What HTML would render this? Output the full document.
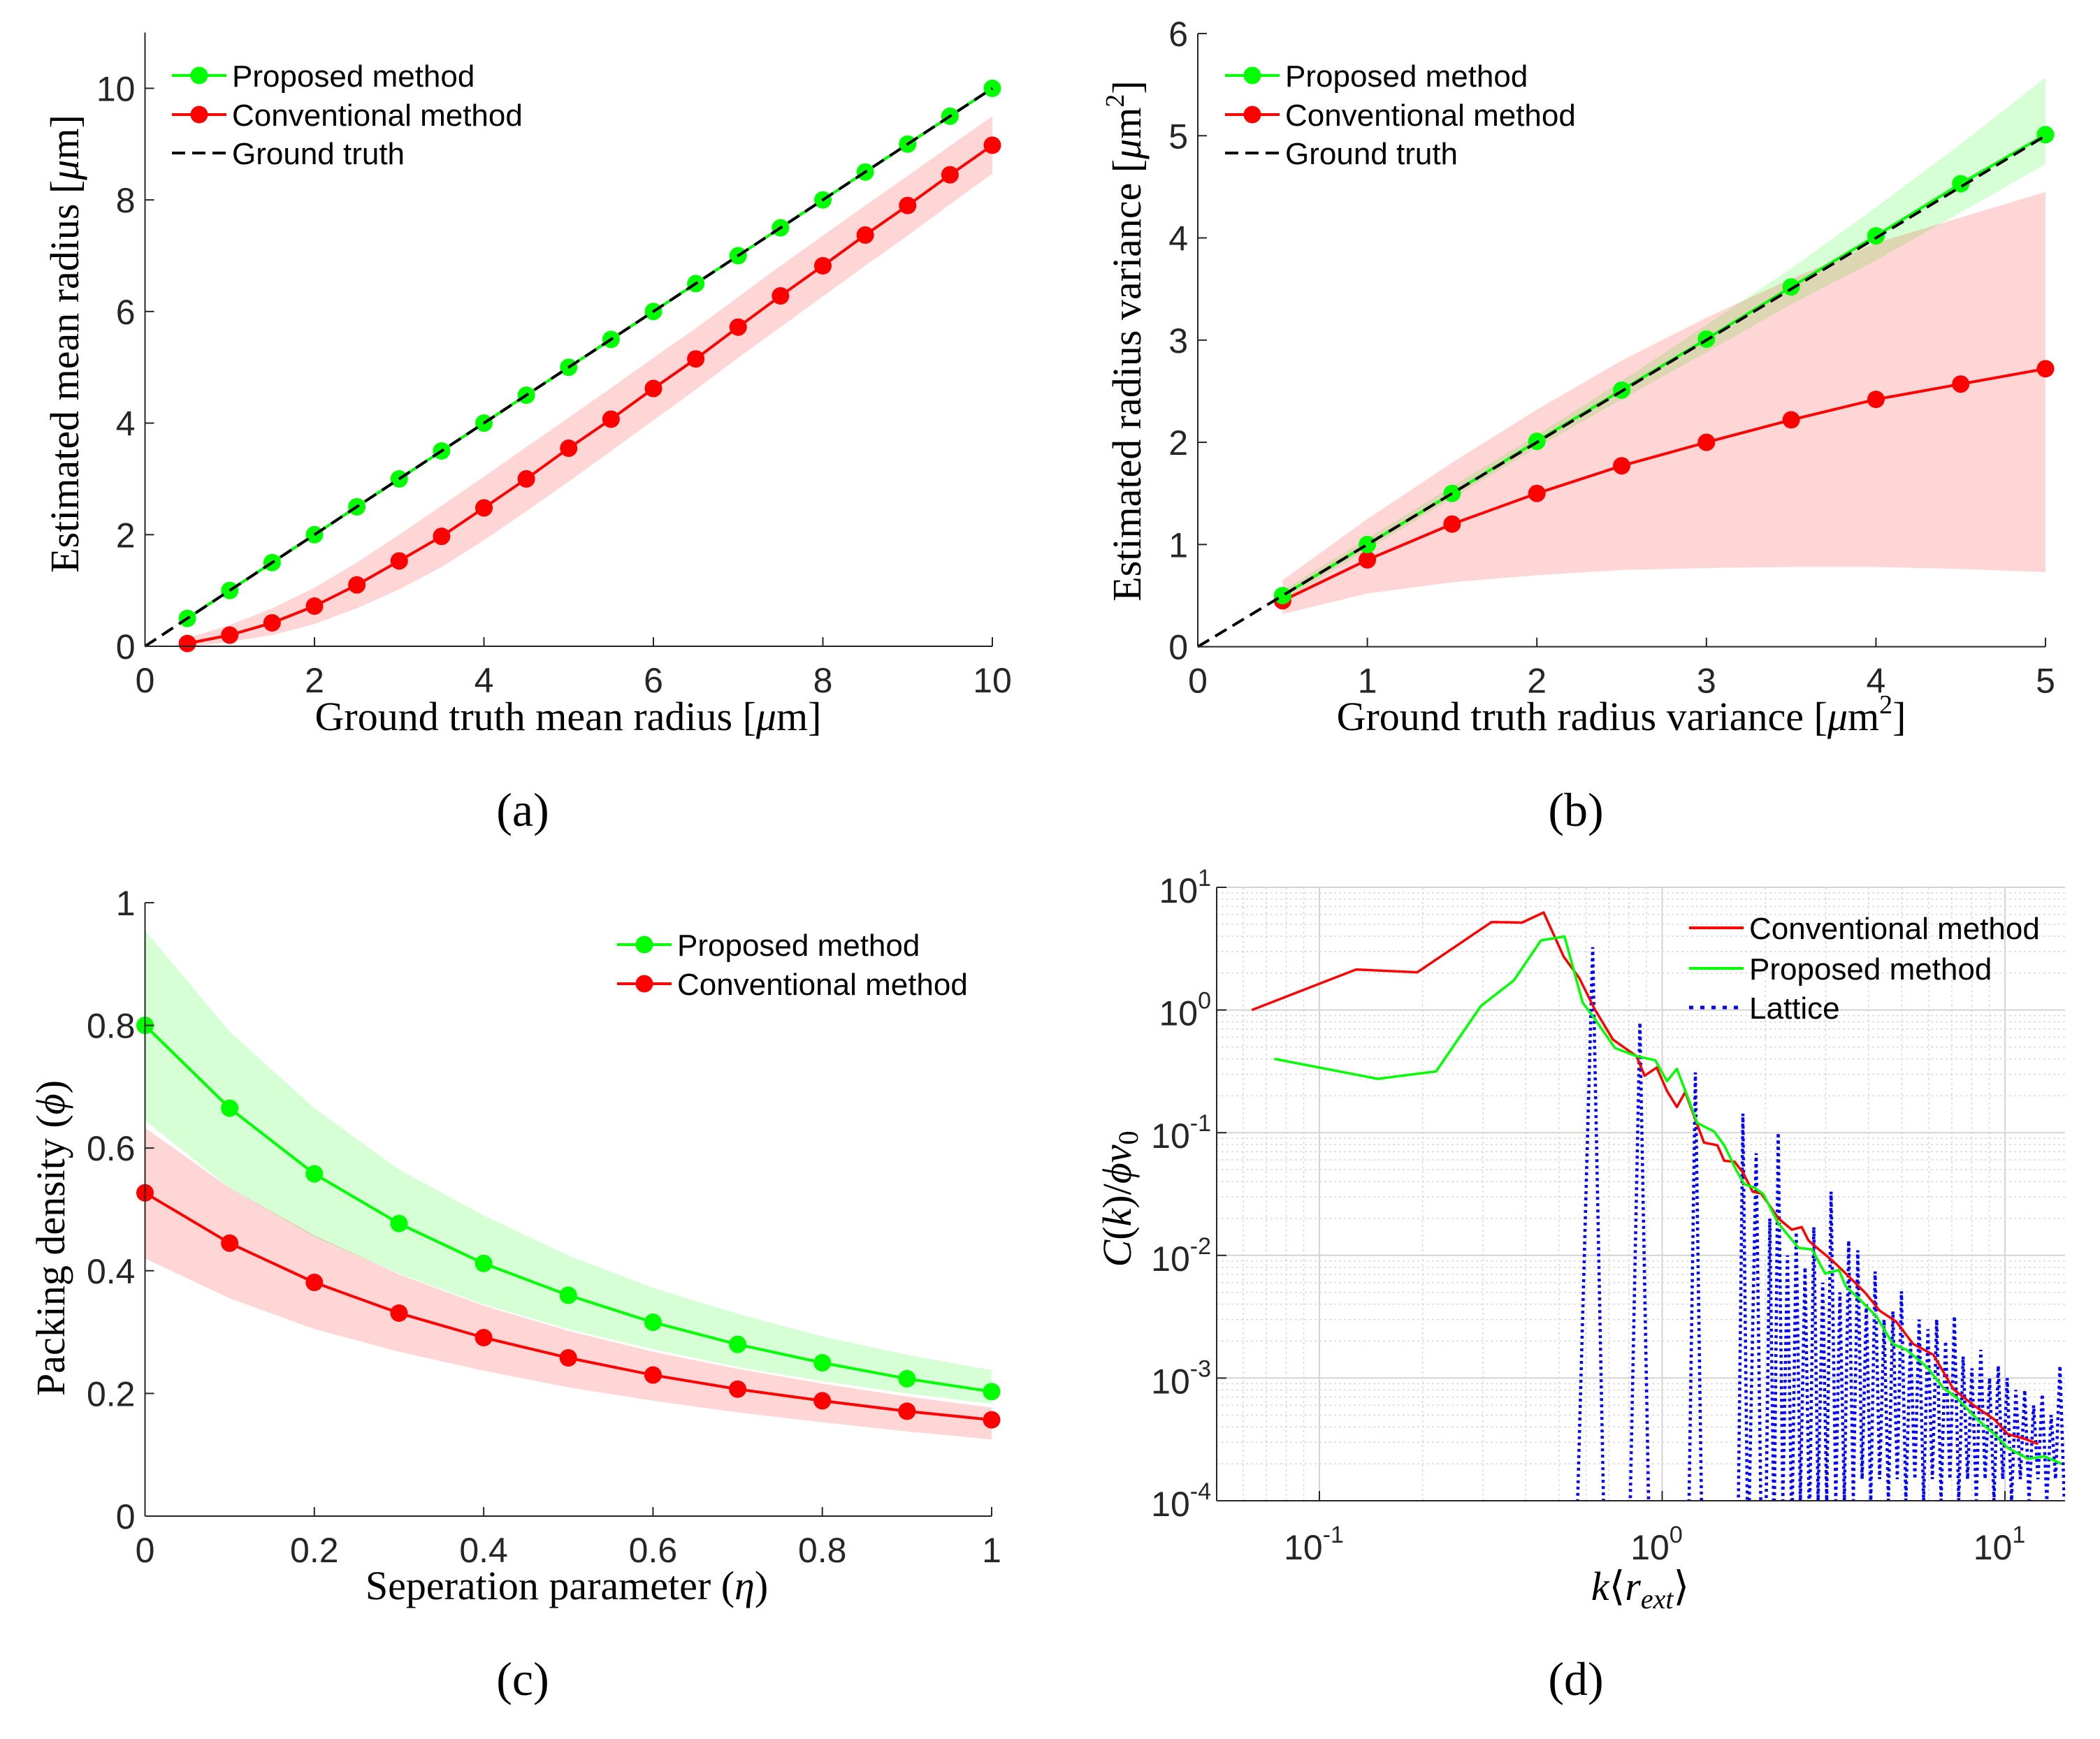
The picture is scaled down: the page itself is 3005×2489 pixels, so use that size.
<!DOCTYPE html>
<html><head><meta charset="utf-8"><style>
html,body{margin:0;padding:0;background:#fff;}
svg{display:block;}
</style></head><body>
<svg id="fig" width="3005" height="2489" viewBox="0 0 3005 2489" xmlns="http://www.w3.org/2000/svg">
<rect x="0" y="0" width="3005" height="2489" fill="#fff"/>
</svg>
<script>
// ---------- Panel (a) data ----------
const aX = [0.5,1,1.5,2,2.5,3,3.5,4,4.5,5,5.5,6,6.5,7,7.5,8,8.5,9,9.5,10];
const aProp = [0.5,1,1.5,2,2.5,3,3.5,4,4.5,5,5.5,6,6.5,7,7.5,8,8.5,9,9.5,10];
const aConv = [0.05,0.2,0.42,0.72,1.1,1.53,1.97,2.48,3.0,3.55,4.07,4.62,5.15,5.72,6.28,6.82,7.37,7.9,8.45,8.98];
const aConvUp = [0.15,0.38,0.68,1.05,1.5,2.0,2.52,3.04,3.57,4.1,4.63,5.17,5.7,6.26,6.82,7.36,7.9,8.43,8.97,9.5];
const aConvLo = [-0.02,0.08,0.2,0.4,0.68,1.02,1.42,1.9,2.42,2.95,3.5,4.05,4.6,5.17,5.72,6.27,6.82,7.36,7.92,8.47];
const aTicksX = [0,2,4,6,8,10];
const aTicksY = [0,2,4,6,8,10];
// ---------- Panel (b) data ----------
const bX = [0.5,1,1.5,2,2.5,3,3.5,4,4.5,5];
const bProp = [0.5,1.0,1.5,2.01,2.51,3.01,3.52,4.02,4.53,5.01];
const bConv = [0.45,0.85,1.2,1.5,1.77,2.0,2.22,2.42,2.57,2.72];
const bPropUp = [0.55,1.06,1.57,2.07,2.6,3.15,3.7,4.3,4.92,5.57];
const bPropLo = [0.45,0.95,1.45,1.95,2.42,2.88,3.35,3.78,4.25,4.72];
const bConvUp = [0.65,1.25,1.8,2.32,2.8,3.22,3.6,3.95,4.2,4.45];
const bConvLo = [0.32,0.52,0.63,0.7,0.75,0.77,0.78,0.78,0.76,0.73];
const bTicksX = [0,1,2,3,4,5];
const bTicksY = [0,1,2,3,4,5,6];
// ---------- Panel (c) data ----------
const cX = [0,0.1,0.2,0.3,0.4,0.5,0.6,0.7,0.8,0.9,1];
const cProp = [0.80,0.665,0.558,0.477,0.412,0.36,0.316,0.28,0.25,0.224,0.203];
const cConv = [0.527,0.445,0.381,0.331,0.291,0.258,0.23,0.207,0.188,0.171,0.157];
const cPropUp = [0.955,0.79,0.665,0.565,0.49,0.425,0.372,0.33,0.293,0.263,0.238];
const cPropLo = [0.645,0.535,0.455,0.395,0.345,0.305,0.272,0.243,0.22,0.2,0.183];
const cConvUp = [0.633,0.535,0.458,0.394,0.343,0.302,0.268,0.24,0.216,0.195,0.177];
const cConvLo = [0.42,0.355,0.305,0.268,0.237,0.21,0.188,0.169,0.153,0.138,0.125];
const cTicksX = [0,0.2,0.4,0.6,0.8,1];
const cTicksY = [0,0.2,0.4,0.6,0.8,1];
// ---------- Panel (d) data ----------
const dConvK = [0.0635,0.128,0.193,0.318,0.39,0.451,0.516,0.573,0.635,0.718,0.841,0.889,0.964,1.033,1.104,1.167,1.253,1.324,1.449,1.517,1.626,1.722,1.837,1.945,2.183,2.388,2.553,2.673,2.864,3.133,3.589,3.926,4.305,4.819,5.395,6.18,7.08,8.11,9.31,10.19,11.4,12.5];
const dConvC = [1.0,2.14,2.03,5.21,5.16,6.24,2.72,1.82,1.02,0.575,0.421,0.291,0.34,0.219,0.162,0.214,0.126,0.083,0.079,0.059,0.058,0.047,0.033,0.032,0.020,0.0162,0.017,0.0132,0.0112,0.0091,0.0063,0.0049,0.00355,0.00288,0.0019,0.00155,0.00081,0.0006,0.00046,0.00035,0.00032,0.00029];
const dPropK = [0.0738,0.148,0.219,0.296,0.369,0.443,0.519,0.586,0.635,0.728,0.841,0.955,1.033,1.104,1.183,1.265,1.419,1.517,1.648,1.738,1.862,1.972,2.183,2.5,2.735,2.99,3.28,3.43,3.76,4.21,4.71,5.16,5.92,6.61,7.24,8.3,9.31,10.19,11.67,13.06,14.62];
const dPropC = [0.40,0.275,0.316,1.08,1.74,3.69,3.98,1.15,0.85,0.49,0.421,0.389,0.263,0.331,0.2,0.12,0.102,0.079,0.049,0.038,0.0355,0.0316,0.0182,0.0115,0.0112,0.0071,0.0076,0.0056,0.0044,0.0032,0.0019,0.0017,0.00123,0.00083,0.00069,0.00046,0.00035,0.00027,0.00022,0.00023,0.0002];
const dLatK = [0.56,0.627,0.68,0.80,0.861,0.92,1.19,1.25,1.31,1.66,1.72,1.78,1.88,1.95,
  2.00,2.06,2.12,2.18,2.25,2.32,2.39,2.46,2.53,2.61,
  2.69,2.77,2.85,2.94,3.02,3.11,3.21,3.30,3.40,3.50,
  3.61,3.72,3.83,3.94,4.06,4.18,4.31,4.44,4.57,4.71,
  4.85,4.99,5.14,5.30,5.46,5.62,5.79,5.96,6.14,6.32,
  6.51,6.71,6.91,7.12,7.33,7.55,7.78,8.01,8.25,8.50,
  8.75,9.02,9.29,9.56,9.85,10.15,10.45,10.76,11.09,11.42,
  11.76,12.12,12.48,12.85,13.24,13.64,14.05,14.47,14.9];
const dLatC = [0.00003,3.25,0.00003,0.00003,0.79,0.00003,0.00003,0.31,0.00003,0.00003,0.143,0.00003,0.068,0.00003,
  0.00003,0.02,0.00005,0.10,0.0001,0.01,0.00005,0.0155,0.0001,0.008,
  0.00006,0.017,0.0001,0.006,0.0001,0.033,0.0001,0.005,0.0001,0.0132,
  0.0001,0.011,0.00015,0.004,0.0001,0.0074,0.00015,0.003,0.0001,0.0035,
  0.00015,0.0051,0.0001,0.002,0.00015,0.003,0.0001,0.0025,0.00015,0.003,
  0.0001,0.002,0.00015,0.0032,0.0001,0.0015,0.00015,0.0012,0.0001,0.0017,
  0.00015,0.001,0.0001,0.00126,0.00015,0.001,0.0001,0.0008,0.00015,0.0008,
  0.0001,0.0006,0.00015,0.00074,0.0001,0.0005,0.00015,0.00126,0.0001];
const dTicksXExp = [-1,0,1];
const dTicksYExp = [-4,-3,-2,-1,0,1];

const NS = 'http://www.w3.org/2000/svg';
const svg = document.getElementById('fig');
const AX = '#262626';
const TICKFONT = '"Liberation Sans", Arial, sans-serif';
const SERIF = '"Liberation Serif", "DejaVu Serif", serif';

function el(tag, attrs, parent, name, inter) {
  const e = document.createElementNS(NS, tag);
  for (const k in attrs) e.setAttribute(k, attrs[k]);
  
  
  (parent || svg).appendChild(e);
  return e;
}
function linScale(d0, d1, p0, p1) { return v => p0 + (v - d0) / (d1 - d0) * (p1 - p0); }
function logScale(d0, d1, p0, p1) { return v => p0 + (Math.log10(v) - d0) / (d1 - d0) * (p1 - p0); }
function pathD(xs, ys, sx, sy) { return xs.map((x, i) => (i ? 'L' : 'M') + sx(x).toFixed(1) + ',' + sy(ys[i]).toFixed(1)).join(''); }
function bandD(xs, up, lo, sx, sy) {
  let d = xs.map((x, i) => (i ? 'L' : 'M') + sx(x).toFixed(1) + ',' + sy(up[i]).toFixed(1)).join('');
  for (let i = xs.length - 1; i >= 0; i--) d += 'L' + sx(xs[i]).toFixed(1) + ',' + sy(lo[i]).toFixed(1);
  return d + 'Z';
}
function text(parent, x, y, str, size, family, anchor, name) {
  const t = el('text', {x: x, y: y, 'font-size': size, 'font-family': family, 'text-anchor': anchor || 'middle', fill: '#000'}, parent, name, false);
  t.textContent = str;
  return t;
}
function linAxes(g, sx, sy, x0, x1, y0, y1, tx, ty, fmt) {
  el('line', {x1: sx(x0), y1: sy(y0), x2: sx(x1), y2: sy(y0), stroke: AX, 'stroke-width': 2}, g, 'x-axis-line', false);
  el('line', {x1: sx(x0), y1: sy(y0), x2: sx(x0), y2: sy(y1), stroke: AX, 'stroke-width': 2}, g, 'y-axis-line', false);
  tx.forEach(v => {
    el('line', {x1: sx(v), y1: sy(y0), x2: sx(v), y2: sy(y0) - 13, stroke: AX, 'stroke-width': 2}, g, 'x-tick', false);
    const t = text(g, sx(v), sy(y0) + 66, fmt(v), 50, TICKFONT, 'middle', 'x-tick-label');
    t.setAttribute('fill', AX);
  });
  ty.forEach(v => {
    el('line', {x1: sx(x0), y1: sy(v), x2: sx(x0) + 13, y2: sy(v), stroke: AX, 'stroke-width': 2}, g, 'y-tick', false);
    const t = text(g, sx(x0) - 14, sy(v) + 18, fmt(v), 50, TICKFONT, 'end', 'y-tick-label');
    t.setAttribute('fill', AX);
  });
}
function series(g, xs, ys, sx, sy, color, name, markers) {
  el('path', {d: pathD(xs, ys, sx, sy), fill: 'none', stroke: color, 'stroke-width': 4, 'stroke-linejoin': 'round'}, g, name + '-line', false);
  if (markers) xs.forEach((x, i) => {
    el('circle', {cx: sx(x), cy: sy(ys[i]), r: 12.5, fill: color}, g, name + '-marker', false);
  });
}
function legendRow(g, x, y, color, label, dash, marker, name) {
  const ln = el('line', {x1: x, y1: y, x2: x + 78, y2: y, stroke: color, 'stroke-width': 4}, g, name + '-swatch', false);
  if (dash) ln.setAttribute('stroke-dasharray', dash);
  if (dash === '6 10') ln.setAttribute('stroke-width', 5);
  if (marker) el('circle', {cx: x + 39, cy: y, r: 12.5, fill: color}, g, name + '-swatch-marker', false);
  const t = text(g, x + 86, y + 16, label, 44, TICKFONT, 'start', name + '-label');
  return t;
}
const fmtNum = v => String(Math.round(v * 10) / 10);

// ===== Panel (a) =====
(function () {
  const g = el('g', {}, svg, 'panel-a', false);
  const sx = linScale(0, 10, 207.5, 1420), sy = linScale(0, 10, 925, 126.4);
  el('path', {d: bandD(aX, aConvUp, aConvLo, sx, sy), fill: '#ff0000', 'fill-opacity': 0.16, stroke: 'none'}, g, 'conventional-band', false);
  series(g, aX, aConv, sx, sy, '#ff0000', 'conventional', true);
  series(g, aX, aProp, sx, sy, '#00ff00', 'proposed', true);
  el('path', {d: pathD([0, 10], [0, 10], sx, sy), fill: 'none', stroke: '#000', 'stroke-width': 4, 'stroke-dasharray': '19 10'}, g, 'ground-truth-line', false);
  linAxes(g, sx, sy, 0, 10, 0, 11, aTicksX, aTicksY, fmtNum);
  const lg = el('g', {}, g, 'legend-a', false);
  legendRow(lg, 246, 108, '#00ff00', 'Proposed method', null, true, 'legend-proposed');
  legendRow(lg, 246, 164, '#ff0000', 'Conventional method', null, true, 'legend-conventional');
  legendRow(lg, 246, 219, '#000', 'Ground truth', '19 10', false, 'legend-ground-truth');
  const xl = text(g, 813, 1045, '', 58, SERIF, 'middle', 'x-axis-title');
  xl.innerHTML = 'Ground truth mean radius [<tspan font-style="italic">μ</tspan>m]';
  const yl = text(g, 0, 0, '', 58, SERIF, 'middle', 'y-axis-title');
  yl.innerHTML = 'Estimated mean radius [<tspan font-style="italic">μ</tspan>m]';
  yl.setAttribute('transform', 'translate(112,492) rotate(-90)');
  text(g, 748, 1182, '(a)', 68, SERIF, 'middle', 'subfigure-label-a');
})();

// ===== Panel (b) =====
(function () {
  const g = el('g', {}, svg, 'panel-b', false);
  const sx = linScale(0, 5, 1714, 2927), sy = linScale(0, 6, 925.6, 48);
  el('path', {d: bandD(bX, bPropUp, bPropLo, sx, sy), fill: '#00ff00', 'fill-opacity': 0.16, stroke: 'none'}, g, 'proposed-band', false);
  el('path', {d: bandD(bX, bConvUp, bConvLo, sx, sy), fill: '#ff0000', 'fill-opacity': 0.16, stroke: 'none'}, g, 'conventional-band', false);
  series(g, bX, bConv, sx, sy, '#ff0000', 'conventional', true);
  series(g, bX, bProp, sx, sy, '#00ff00', 'proposed', true);
  el('path', {d: pathD([0, 5], [0, 5], sx, sy), fill: 'none', stroke: '#000', 'stroke-width': 4, 'stroke-dasharray': '19 10'}, g, 'ground-truth-line', false);
  linAxes(g, sx, sy, 0, 5, 0, 6, bTicksX, bTicksY, fmtNum);
  const lg = el('g', {}, g, 'legend-b', false);
  legendRow(lg, 1753, 108, '#00ff00', 'Proposed method', null, true, 'legend-proposed');
  legendRow(lg, 1753, 164, '#ff0000', 'Conventional method', null, true, 'legend-conventional');
  legendRow(lg, 1753, 219, '#000', 'Ground truth', '19 10', false, 'legend-ground-truth');
  const xl = text(g, 2320, 1045, '', 58, SERIF, 'middle', 'x-axis-title');
  xl.innerHTML = 'Ground truth radius variance [<tspan font-style="italic">μ</tspan>m<tspan font-size="38" dy="-24">2</tspan><tspan dy="24">]</tspan>';
  const yl = text(g, 0, 0, '', 58, SERIF, 'middle', 'y-axis-title');
  yl.innerHTML = 'Estimated radius variance [<tspan font-style="italic">μ</tspan>m<tspan font-size="38" dy="-24">2</tspan><tspan dy="24">]</tspan>';
  yl.setAttribute('transform', 'translate(1632,488) rotate(-90)');
  text(g, 2255, 1182, '(b)', 68, SERIF, 'middle', 'subfigure-label-b');
})();

// ===== Panel (c) =====
(function () {
  const g = el('g', {}, svg, 'panel-c', false);
  const sx = linScale(0, 1, 207.5, 1419), sy = linScale(0, 1, 2170, 1292);
  el('path', {d: bandD(cX, cPropUp, cPropLo, sx, sy), fill: '#00ff00', 'fill-opacity': 0.16, stroke: 'none'}, g, 'proposed-band', false);
  el('path', {d: bandD(cX, cConvUp, cConvLo, sx, sy), fill: '#ff0000', 'fill-opacity': 0.16, stroke: 'none'}, g, 'conventional-band', false);
  series(g, cX, cConv, sx, sy, '#ff0000', 'conventional', true);
  series(g, cX, cProp, sx, sy, '#00ff00', 'proposed', true);
  linAxes(g, sx, sy, 0, 1, 0, 1, cTicksX, cTicksY, fmtNum);
  const lg = el('g', {}, g, 'legend-c', false);
  legendRow(lg, 883, 1352, '#00ff00', 'Proposed method', null, true, 'legend-proposed');
  legendRow(lg, 883, 1408, '#ff0000', 'Conventional method', null, true, 'legend-conventional');
  const xl = text(g, 811, 2289, '', 58, SERIF, 'middle', 'x-axis-title');
  xl.innerHTML = 'Seperation parameter (<tspan font-style="italic">η</tspan>)';
  const yl = text(g, 0, 0, '', 58, SERIF, 'middle', 'y-axis-title');
  yl.innerHTML = 'Packing density (<tspan font-style="italic">ϕ</tspan>)';
  yl.setAttribute('transform', 'translate(92,1772) rotate(-90)');
  text(g, 748, 2426, '(c)', 68, SERIF, 'middle', 'subfigure-label-c');
})();

// ===== Panel (d) =====
(function () {
  const g = el('g', {}, svg, 'panel-d', false);
  const X0 = 1741, X1 = 2955, Y0 = 2148, Y1 = 1270;
  const lx0 = -1 - (1888 - X0) / 490.5, lx1 = 1 + (X1 - 2869) / 490.5;
  const sx = logScale(lx0, lx1, X0, X1), sy = logScale(-4, 1, Y0, Y1);
  const grid = el('g', {}, g, 'grid', false);
  for (let e = -2; e <= 1; e++) for (let m = 1; m <= 9; m++) {
    const v = m * Math.pow(10, e); const x = sx(v);
    if (x <= X0 || x > X1) continue;
    const ln = el('line', {x1: x, y1: Y0, x2: x, y2: Y1, stroke: m === 1 ? '#d4d4d4' : '#d8d8d8', 'stroke-width': m === 1 ? 2 : 1.5}, grid, 'x-grid-line', false);
    if (m !== 1) ln.setAttribute('stroke-dasharray', '3 4');
  }
  for (let e = -4; e <= 0; e++) for (let m = 1; m <= 9; m++) {
    const v = m * Math.pow(10, e); const y = sy(v);
    if (y >= Y0) continue;
    const ln = el('line', {x1: X0, y1: y, x2: X1, y2: y, stroke: m === 1 ? '#d4d4d4' : '#d8d8d8', 'stroke-width': m === 1 ? 2 : 1.5}, grid, 'y-grid-line', false);
    if (m !== 1) ln.setAttribute('stroke-dasharray', '3 4');
  }
  el('line', {x1: X0, y1: Y1, x2: X1, y2: Y1, stroke: '#d4d4d4', 'stroke-width': 2}, grid, 'y-grid-line', false);
  const clip = el('clipPath', {id: 'clipd'}, g, 'plot-clip', false);
  el('rect', {x: X0, y: Y1, width: X1 - X0, height: Y0 - Y1}, clip, 'plot-clip-rect', false);
  const plot = el('g', {'clip-path': 'url(#clipd)'}, g, 'plot-area', false);
  el('path', {d: pathD(dLatK, dLatC, sx, sy), fill: 'none', stroke: '#0000ff', 'stroke-width': 4.5, 'stroke-dasharray': '4 5'}, plot, 'lattice-line', false);
  el('path', {d: pathD(dConvK, dConvC, sx, sy), fill: 'none', stroke: '#ff0000', 'stroke-width': 3.5, 'stroke-linejoin': 'round'}, plot, 'conventional-line', false);
  el('path', {d: pathD(dPropK, dPropC, sx, sy), fill: 'none', stroke: '#00ff00', 'stroke-width': 3.5, 'stroke-linejoin': 'round'}, plot, 'proposed-line', false);
  el('line', {x1: X0, y1: Y0, x2: X1, y2: Y0, stroke: AX, 'stroke-width': 2}, g, 'x-axis-line', false);
  el('line', {x1: X0, y1: Y0, x2: X0, y2: Y1, stroke: AX, 'stroke-width': 2}, g, 'y-axis-line', false);
  dTicksXExp.forEach(e => {
    const x = sx(Math.pow(10, e));
    el('line', {x1: x, y1: Y0, x2: x, y2: Y0 - 14, stroke: AX, 'stroke-width': 2}, g, 'x-tick', false);
    const t = text(g, x - 8, Y0 + 84, '', 50, TICKFONT, 'middle', 'x-tick-label');
    t.innerHTML = '10<tspan font-size="34" dy="-24">' + (e < 0 ? '-' : '') + Math.abs(e) + '</tspan>';
    t.setAttribute('fill', AX);
  });
  dTicksYExp.forEach(e => {
    const y = sy(Math.pow(10, e));
    el('line', {x1: X0, y1: y, x2: X0 + 14, y2: y, stroke: AX, 'stroke-width': 2}, g, 'y-tick', false);
    const t = text(g, X0 - 8, y + 22, '', 50, TICKFONT, 'end', 'y-tick-label');
    t.innerHTML = '10<tspan font-size="34" dy="-24">' + (e < 0 ? '-' : '') + Math.abs(e) + '</tspan>';
    t.setAttribute('fill', AX);
  });
  const lg = el('g', {}, g, 'legend-d', false);
  legendRow(lg, 2417, 1328, '#ff0000', 'Conventional method', null, false, 'legend-conventional');
  legendRow(lg, 2417, 1386, '#00ff00', 'Proposed method', null, false, 'legend-proposed');
  legendRow(lg, 2417, 1442, '#0000ff', 'Lattice', '6 10', false, 'legend-lattice');
  const xl = text(g, 2347, 2290, '', 58, SERIF, 'middle', 'x-axis-title');
  xl.innerHTML = '<tspan font-style="italic">k</tspan>⟨<tspan font-style="italic">r</tspan><tspan font-style="italic" font-size="40" dy="12">ext</tspan><tspan dy="-12">⟩</tspan>';
  const yl = text(g, 0, 0, '', 58, SERIF, 'middle', 'y-axis-title');
  yl.innerHTML = '<tspan font-style="italic">C</tspan>(<tspan font-style="italic">k</tspan>)/<tspan font-style="italic">ϕv</tspan><tspan font-size="40" dy="10">0</tspan>';
  yl.setAttribute('transform', 'translate(1618,1716) rotate(-90)');
  text(g, 2255, 2426, '(d)', 68, SERIF, 'middle', 'subfigure-label-d');
})();
</script>
</body></html>
